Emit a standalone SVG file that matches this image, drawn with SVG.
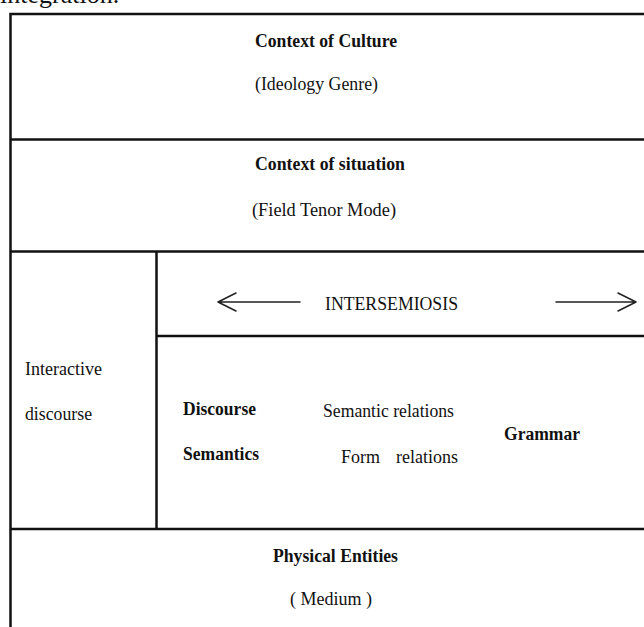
<svg xmlns="http://www.w3.org/2000/svg" width="644" height="627" viewBox="0 0 644 627">
<style>
  .ln{stroke:#111;stroke-width:2.5;fill:none}
  .ar{stroke:#222;stroke-width:1.5;fill:none;stroke-linecap:round;stroke-linejoin:round}
  text{font-family:"Liberation Serif","Times New Roman",serif;font-size:18px;fill:#111}
  .b{font-weight:bold}
</style>
<rect width="644" height="627" fill="#fff"/>
<text x="0" y="3" style="font-size:26px">integration.</text>
<g id="frame">
  <path class="ln" d="M10.5 627 V14 H644"/>
  <path class="ln" d="M10.5 139.5 H644"/>
  <path class="ln" d="M10.5 251.5 H644"/>
  <path class="ln" d="M156.5 251.5 V529"/>
  <path class="ln" d="M156.5 336 H644"/>
  <path class="ln" d="M10.5 529 H644"/>
</g>
<g id="culture">
  <text class="b" x="255" y="47" textLength="142" lengthAdjust="spacingAndGlyphs">Context of Culture</text>
  <text x="255" y="90" textLength="123" lengthAdjust="spacingAndGlyphs">(Ideology Genre)</text>
</g>
<g id="situation">
  <text class="b" x="255" y="170" textLength="150" lengthAdjust="spacingAndGlyphs">Context of situation</text>
  <text x="252" y="216" textLength="144" lengthAdjust="spacingAndGlyphs">(Field Tenor Mode)</text>
</g>
<g id="intersemiosis">
  <text x="325" y="310" textLength="133" lengthAdjust="spacingAndGlyphs">INTERSEMIOSIS</text>
</g>
<g id="interactive">
  <text x="25" y="375" textLength="77" lengthAdjust="spacingAndGlyphs">Interactive</text>
  <text x="25" y="420" textLength="67" lengthAdjust="spacingAndGlyphs">discourse</text>
</g>
<g id="semantics">
  <text class="b" x="183" y="415" textLength="73" lengthAdjust="spacingAndGlyphs">Discourse</text>
  <text class="b" x="183" y="460" textLength="76" lengthAdjust="spacingAndGlyphs">Semantics</text>
  <text x="323" y="417" textLength="131" lengthAdjust="spacingAndGlyphs">Semantic relations</text>
  <text y="463"><tspan x="341">Form</tspan><tspan x="396">relations</tspan></text>
  <text class="b" x="504" y="440" textLength="76" lengthAdjust="spacingAndGlyphs">Grammar</text>
</g>
<g id="physical">
  <text class="b" x="273" y="562" textLength="125" lengthAdjust="spacingAndGlyphs">Physical Entities</text>
  <text x="290" y="605" textLength="82" lengthAdjust="spacingAndGlyphs">( Medium )</text>
</g>
<g id="connectors">
  <path class="ar" d="M300 302 H218 M236 293 L218 302 L236 311"/>
  <path class="ar" d="M556 302 H636 M618 293 L636 302 L618 311"/>
</g>
</svg>
